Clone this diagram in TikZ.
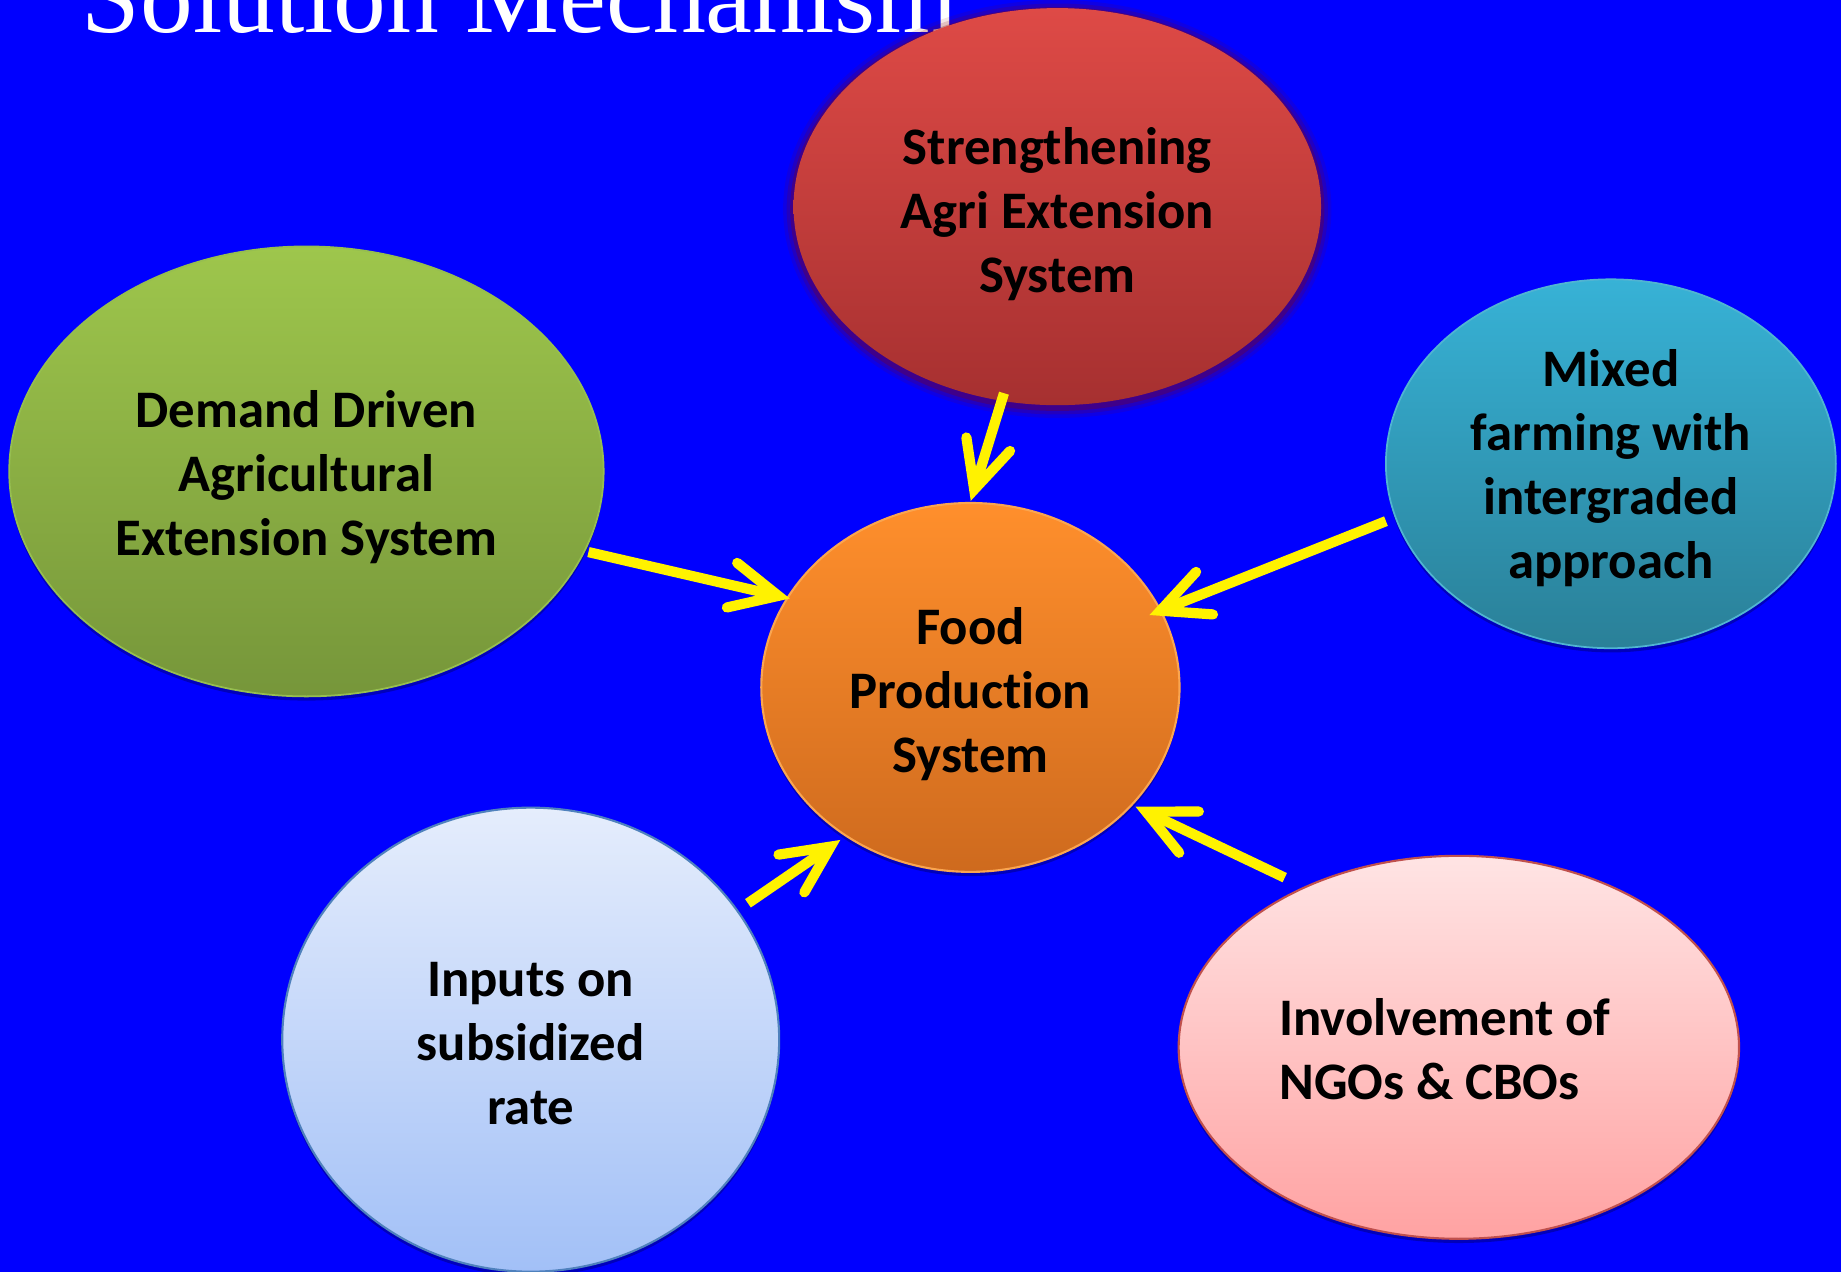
\documentclass[tikz,border=0pt]{standalone}
\usepackage{fontspec}
\setmainfont{Carlito}[Ligatures=NoCommon]
\newfontfamily\titlefont{Liberation Serif}
\usetikzlibrary{shapes.geometric,arrows.meta,shadows}
\def\pxu{0.33406pt}
\definecolor{bgblue}{RGB}{0,0,255}
\definecolor{redT}{RGB}{222,74,70}
\definecolor{redB}{RGB}{166,48,48}
\definecolor{greenT}{RGB}{158,198,76}
\definecolor{greenB}{RGB}{118,150,58}
\definecolor{greenL}{RGB}{150,190,80}
\definecolor{tealT}{RGB}{55,178,214}
\definecolor{tealB}{RGB}{42,128,152}
\definecolor{tealL}{RGB}{80,180,210}
\definecolor{orT}{RGB}{255,143,44}
\definecolor{orB}{RGB}{206,106,30}
\definecolor{orL}{RGB}{250,165,80}
\definecolor{lbT}{RGB}{229,237,252}
\definecolor{lbB}{RGB}{162,192,247}
\definecolor{lbL}{RGB}{79,129,189}
\definecolor{pkT}{RGB}{255,228,228}
\definecolor{pkB}{RGB}{255,162,162}
\definecolor{pkL}{RGB}{192,80,77}
\definecolor{shd}{RGB}{0,0,120}
\begin{document}
\begin{tikzpicture}[x=0.011741cm, y=-0.011741cm,
  bub/.style={ellipse, inner sep=0pt},
  txt/.style={inner sep=0pt, align=center, text=black,
    font=\bfseries\fontsize{15}{18.2}\selectfont},
  shad/.style={drop shadow={shadow xshift=0pt, shadow yshift=-1.2pt, opacity=0.5, fill=shd}},
  yarr/.style={draw=yellow, line width=2.9pt,
    -{Straight Barb[length=13.5pt, width=13pt, line cap=round, line join=miter]}},
  ttl/.style={text=white, inner sep=0pt, font=\titlefont\fontsize{30}{36}\selectfont}
]
\fill[bgblue] (0,0) rectangle (1568,1083);
\useasboundingbox (0,0) rectangle (1568,1083);

\node[ttl, anchor=base west] (title) at (69,28) {Solution Mechanism};

% soft edge of the red ellipse
\foreach \d/\o in {9/0.10, 6/0.16, 3/0.28}
  \fill[red!55!black, opacity=\o] (900.5,178) ellipse [x radius=224.5+\d, y radius=169+\d];

\node[bub, minimum width=449*\pxu, minimum height=338*\pxu,
  top color=redT, bottom color=redB,
  label={[txt, name=redtext, yshift=-6*\pxu]center:Strengthening\\Agri Extension\\System}]
  (red) at (900.5,176) {};

\node[bub, shad, draw=greenL, line width=0.5pt, minimum width=506*\pxu, minimum height=383*\pxu,
  top color=greenT, bottom color=greenB,
  label={[txt, name=greentext, yshift=-5*\pxu]center:Demand Driven\\Agricultural\\Extension System}]
  (green) at (261,401.5) {};

\node[bub, shad, draw=tealL, line width=0.5pt, minimum width=383*\pxu, minimum height=314*\pxu,
  top color=tealT, bottom color=tealB,
  label={[txt, name=tealtext, yshift=-4*\pxu]center:Mixed\\farming with\\intergraded\\approach}]
  (teal) at (1372,395) {};

\node[bub, shad, draw=orL, line width=0.6pt, minimum width=356*\pxu, minimum height=314*\pxu,
  top color=orT, bottom color=orB,
  label={[txt, name=foodtext, yshift=-6*\pxu]center:Food\\Production\\System}]
  (food) at (826.5,585.5) {};

\node[bub, shad, draw=lbL, line width=0.6pt, minimum width=423*\pxu, minimum height=395*\pxu,
  top color=lbT, bottom color=lbB,
  label={[txt, name=lbtext, yshift=-3*\pxu]center:Inputs on\\subsidized\\rate}]
  (lb) at (452,885.5) {};

\node[bub, shad, draw=pkL, line width=0.6pt, minimum width=477*\pxu, minimum height=326*\pxu,
  top color=pkT, bottom color=pkB,
  label={[txt, align=left, name=pinktext, yshift=-2*\pxu, xshift=-12*\pxu]center:Involvement of\\NGOs \& CBOs}]
  (pink) at (1242.5,892) {};

\draw[yarr, shorten <=-7.3*\pxu, shorten >=1*\pxu] (red.254) -- (food.90);
\draw[yarr, shorten <=2.8*\pxu, shorten >=-2.9*\pxu] (green.-16) -- (food.154);
\draw[yarr, shorten <=8.1*\pxu, shorten >=-11*\pxu] (teal.194) -- (food.22);
\draw[yarr, shorten <=10.2*\pxu, shorten >=5.2*\pxu] (lb.32) -- (food.230);
\draw[yarr, shorten <=17.9*\pxu, shorten >=2.7*\pxu] (pink.134) -- (food.324);
\end{tikzpicture}
\end{document}
